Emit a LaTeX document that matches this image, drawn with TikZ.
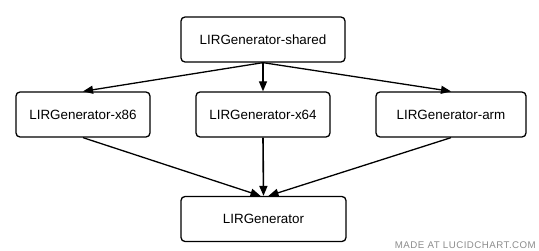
\documentclass[tikz,border=0pt]{standalone}
\usepackage{fontspec}
\setmainfont{Liberation Sans}
\usetikzlibrary{arrows.meta}
\begin{document}
\begin{tikzpicture}[x=1pt,y=-1pt,
  box/.style={draw=black,line width=1.3pt,rounded corners=4pt,fill=white,
    minimum width=#1,minimum height=45pt,inner sep=0pt,font=\fontsize{13.4}{15}\selectfont},
  box/.default=134pt,
  conn/.style={line width=1.3pt,-{Triangle[length=10pt,width=8pt]}}]
\useasboundingbox (0,0) rectangle (539,251);
\node[box=164pt] (shared) at (263,39.5) {LIRGenerator-shared};
\node[box] (x86) at (83,114.5) {LIRGenerator-x86};
\node[box] (x64) at (263,114.5) {LIRGenerator-x64};
\node[box=150pt] (arm) at (451,114.5) {LIRGenerator-arm};
\node[box=165pt] (gen) at (263.5,219) {LIRGenerator};
\draw[conn] (shared.south) -- (x86.north);
\draw[conn] (shared.south) -- (x64.north);
\draw[conn] (shared.south) -- (arm.north);
\draw[conn] (x86.south) -- ([xshift=-3pt]gen.north);
\draw[conn,line width=1.6pt] (x64.south) -- (gen.north);
\draw[conn] (arm.south) -- ([xshift=5pt]gen.north);
\node[anchor=base east,text=black!45,font=\fontsize{9.7}{11}\selectfont\addfontfeature{LetterSpace=5},inner sep=0pt] (wm) at (536,248.5) {MADE AT LUCIDCHART.COM};
\end{tikzpicture}
\end{document}
